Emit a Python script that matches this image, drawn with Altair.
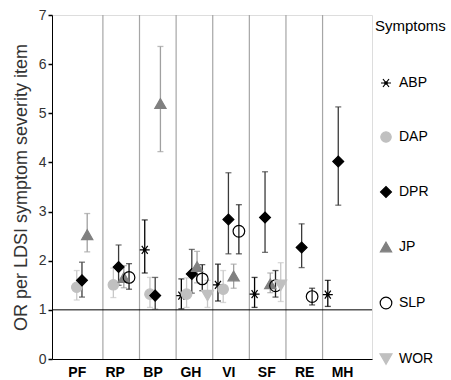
import altair as alt
import pandas as pd

categories = ["PF", "RP", "BP", "GH", "VI", "SF", "RE", "MH"]
symptoms = ["ABP", "DAP", "DPR", "JP", "SLP", "WOR"]

abp_cat = ["BP", "GH", "VI", "SF", "MH"]
abp_or = [2.22, 1.29, 1.51, 1.32, 1.31]
abp_lo = [1.75, 1.02, 1.18, 1.05, 1.07]
abp_hi = [2.83, 1.63, 1.93, 1.66, 1.60]

dap_cat = ["PF", "RP", "BP", "GH", "VI"]
dap_or = [1.46, 1.51, 1.32, 1.32, 1.42]
dap_lo = [1.20, 1.25, 1.05, 1.05, 1.15]
dap_hi = [1.80, 1.85, 1.66, 1.65, 1.80]

dpr_cat = ["PF", "RP", "BP", "GH", "VI", "SF", "RE", "MH"]
dpr_or = [1.60, 1.87, 1.29, 1.73, 2.84, 2.88, 2.27, 4.02]
dpr_lo = [1.26, 1.50, 1.01, 1.34, 2.14, 2.17, 1.86, 3.13]
dpr_hi = [1.97, 2.32, 1.66, 2.23, 3.79, 3.81, 2.75, 5.13]

jp_cat = ["PF", "RP", "BP", "GH", "VI", "SF"]
jp_or = [2.53, 1.66, 5.20, 1.88, 1.69, 1.53]
jp_lo = [2.18, 1.45, 4.22, 1.55, 1.44, 1.35]
jp_hi = [2.96, 1.90, 6.36, 2.19, 1.93, 1.75]

slp_cat = ["RP", "GH", "VI", "SF", "RE"]
slp_or = [1.66, 1.63, 2.60, 1.49, 1.27]
slp_lo = [1.42, 1.39, 2.14, 1.26, 1.10]
slp_hi = [1.94, 1.92, 3.14, 1.80, 1.44]

wor_cat = ["GH", "SF"]
wor_or = [1.29, 1.50]
wor_lo = [1.05, 1.17]
wor_hi = [1.60, 1.96]

series = {
    "ABP": (abp_cat, abp_or, abp_lo, abp_hi),
    "DAP": (dap_cat, dap_or, dap_lo, dap_hi),
    "DPR": (dpr_cat, dpr_or, dpr_lo, dpr_hi),
    "JP": (jp_cat, jp_or, jp_lo, jp_hi),
    "SLP": (slp_cat, slp_or, slp_lo, slp_hi),
    "WOR": (wor_cat, wor_or, wor_lo, wor_hi),
}

# styles
asterisk = "M-1,0L1,0M-0.6,-0.8L0.6,0.8M-0.6,0.8L0.6,-0.8M-0.22,-0.22L0.22,-0.22L0.22,0.22L-0.22,0.22Z"
shapes = [asterisk, "circle", "diamond", "triangle-up", "circle", "triangle-down"]
fills = ["#000000", "#c0c0c0", "#000000", "#808080", "transparent", "#c0c0c0"]
strokes = ["#000000", "#c0c0c0", "#000000", "#808080", "#000000", "#c0c0c0"]
sizes = [100, 144, 144, 110, 150, 110]
err_colors = ["#000000", "#c8c8c8", "#3a3a3a", "#a0a0a0", "#202020", "#c8c8c8"]

rows = []
for s_i, s in enumerate(symptoms):
    cats, ors, los, his = series[s]
    for c, o, l, h in zip(cats, ors, los, his):
        rows.append(dict(symptom=s, category=c, OR=o, lo=l, hi=h,
                         pos=categories.index(c) + (s_i + 1) / 7.0,
                         ecol=err_colors[s_i], order=s_i))
df = pd.DataFrame(rows)

bounds = pd.DataFrame({"b": list(range(1, len(categories)))})
labels = pd.DataFrame({"category": categories,
                       "lx": [i * 1.035 + 0.3 for i in range(len(categories))]})

W, H = 320, 344
xscale = alt.Scale(domain=[-0.39, 8.35], nice=False, zero=False)
yscale = alt.Scale(domain=[0, 7], nice=False)

xaxis = alt.Axis(labels=False, ticks=False, grid=False, title=None,
                 domainColor="#000000", domainWidth=1)
yaxis = alt.Axis(values=list(range(0, 8)), grid=False, tickSize=4, tickColor="#000000",
                 tickWidth=1.5, domainColor="#000000", labelFontSize=14,
                 labelColor="#333333", labelPadding=2, labelFont="Liberation Sans",
                 title="OR per LDSI symptom severity item", titleFontSize=18,
                 titleFontWeight="normal", titleColor="#333333",
                 titleFont="Liberation Sans", titlePadding=8)

grid = alt.Chart(bounds).mark_rule(color="#a6a6a6", strokeWidth=1.2).encode(
    x=alt.X("b:Q", scale=xscale, axis=xaxis)
)

one = alt.Chart(pd.DataFrame({"v": [1]})).mark_rule(color="#000000", strokeWidth=1).encode(
    y=alt.Y("v:Q", scale=yscale, axis=yaxis)
)

err = alt.Chart(df).mark_rule(strokeWidth=1.3).encode(
    x=alt.X("pos:Q", scale=xscale, axis=xaxis),
    y=alt.Y("lo:Q", scale=yscale, axis=yaxis),
    y2="hi:Q",
    color=alt.Color("ecol:N", scale=None),
)
cap_lo = alt.Chart(df).mark_tick(orient="horizontal", size=6, thickness=1.3).encode(
    x=alt.X("pos:Q", scale=xscale, axis=xaxis),
    y=alt.Y("lo:Q", scale=yscale, axis=yaxis),
    color=alt.Color("ecol:N", scale=None),
)
cap_hi = alt.Chart(df).mark_tick(orient="horizontal", size=6, thickness=1.3).encode(
    x=alt.X("pos:Q", scale=xscale, axis=xaxis),
    y=alt.Y("hi:Q", scale=yscale, axis=yaxis),
    color=alt.Color("ecol:N", scale=None),
)

legend = alt.Legend(title="Symptoms", orient="none", legendX=323, legendY=4,
                    titleFontSize=15, titleFontWeight="normal", titleColor="#000000",
                    titleFont="Liberation Sans", labelFont="Liberation Sans",
                    labelFontSize=14, labelColor="#000000", rowPadding=39,
                    titlePadding=42, symbolStrokeWidth=1.2, labelOffset=6,
                    symbolOffset=4, padding=0, offset=0)

pts = alt.Chart(df).mark_point(filled=False, strokeWidth=1.2, opacity=1).encode(
    x=alt.X("pos:Q", scale=xscale, axis=xaxis),
    y=alt.Y("OR:Q", scale=yscale, axis=yaxis),
    shape=alt.Shape("symptom:N", scale=alt.Scale(domain=symptoms, range=shapes), legend=legend),
    fill=alt.Fill("symptom:N", scale=alt.Scale(domain=symptoms, range=fills), legend=legend),
    stroke=alt.Stroke("symptom:N", scale=alt.Scale(domain=symptoms, range=strokes), legend=legend),
    size=alt.Size("symptom:N", scale=alt.Scale(domain=symptoms, range=sizes), legend=legend),
    order="order:Q",
)

txt = alt.Chart(labels).mark_text(fontSize=14, fontWeight="bold", font="Liberation Sans",
                                  color="#000000", baseline="alphabetic").encode(
    x=alt.X("lx:Q", scale=xscale, axis=xaxis),
    y=alt.value(H + 18),
    text="category:N",
)

chart = alt.layer(grid, one, err, cap_lo, cap_hi, pts, txt).properties(
    width=W, height=H,
    autosize=alt.AutoSizeParams(type="none"),
    padding={"left": 52, "top": 15, "right": 79, "bottom": 21},
).configure_view(stroke="#000000", strokeWidth=1).configure(background="white")

chart.save("out.html", embed_options={"renderer": "svg", "actions": False})
